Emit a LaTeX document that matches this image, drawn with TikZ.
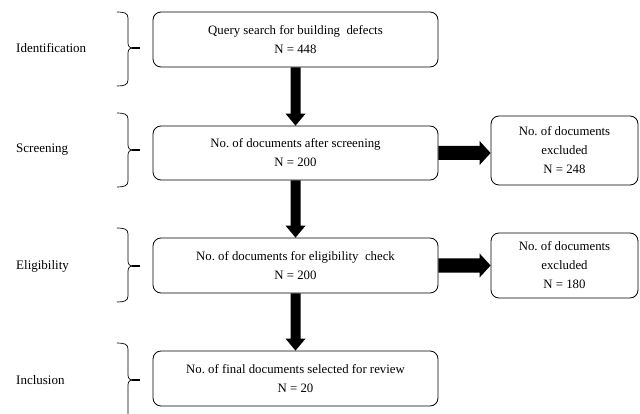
\documentclass[tikz,border=0pt]{standalone}
\usepackage{fontspec}
\setmainfont{Liberation Serif}
\usetikzlibrary{calc}
\frenchspacing
\begin{document}
\begin{tikzpicture}[x=1pt,y=-1pt,
  box/.style={draw,rounded corners=8pt,line width=0.8pt,align=center,inner sep=0pt,
    font=\fontsize{12.8}{19}\selectfont},
  lbl/.style={anchor=west,inner sep=0pt,font=\fontsize{13}{19}\selectfont},
  fatv/.style={fill=black},
  brc/.style={line width=0.7pt}]
\useasboundingbox (0,0) rectangle (640,414);
\clip (0,0) rectangle (640,414);
% main boxes
\node[box,minimum width=285pt,minimum height=55pt] (b1) at (295.5,39.5) {Query search for building~ defects\\N = 448};
\node[box,minimum width=285pt,minimum height=54pt] (b2) at (295.5,153) {No. of documents after screening\\N = 200};
\node[box,minimum width=285pt,minimum height=55pt] (b3) at (295.5,265.5) {No. of documents for eligibility~ check\\N = 200};
\node[box,minimum width=285pt,minimum height=55pt] (b4) at (295.5,378.5) {No. of final documents selected for review\\N = 20};
% side boxes
\node[box,minimum width=147pt,minimum height=69pt] (e1) at (564.5,150.5) {No. of documents\\excluded\\N = 248};
\node[box,minimum width=147pt,minimum height=65pt] (e2) at (564.5,265.5) {No. of documents\\excluded\\N = 180};
% vertical fat arrows
\foreach \a/\b in {b1/b2,b2/b3,b3/b4}{
  \path (\a.south) coordinate (s) (\b.north) coordinate (t);
  \fill[fatv] ($(s)+(-5,0)$) -- ($(t)+(-5,-12)$) -- ($(t)+(-10,-12)$) -- (t) -- ($(t)+(10,-12)$) -- ($(t)+(5,-12)$) -- ($(s)+(5,0)$) -- cycle;
}
% horizontal fat arrows
\foreach \a/\b in {b2/e1,b3/e2}{
  \path (\a.east) coordinate (s) (\a.east -| \b.west) coordinate (t);
  \fill[fatv] ($(s)+(0,-7)$) -- ($(t)+(-11,-7)$) -- ($(t)+(-11,-12)$) -- (t) -- ($(t)+(-11,12)$) -- ($(t)+(-11,7)$) -- ($(s)+(0,7)$) -- cycle;
}
% labels
\node[lbl] (l1) at (16,48) {Identification};
\node[lbl] (l2) at (16,150) {Screening};
\node[lbl] (l3) at (16,266) {Eligibility};
\node[lbl] (l4) at (16,380) {Inclusion};
% braces
\foreach \t/\m/\bt in {12/48/86, 113/150/187, 228/266/302, 343/380/430}{
  \draw[brc] (117,\t) .. controls (124,\t) and (128,\t+1) .. (128,\t+6) -- (128,\m-5)
     .. controls (128,\m-1) and (130,\m) .. (134,\m)
     .. controls (130,\m) and (128,\m+1) .. (128,\m+5) -- (128,\bt-6)
     .. controls (128,\bt-1) and (124,\bt) .. (117,\bt);
  \draw[line width=1.2pt] (132,\m) -- (140,\m);
}
\end{tikzpicture}
\end{document}
